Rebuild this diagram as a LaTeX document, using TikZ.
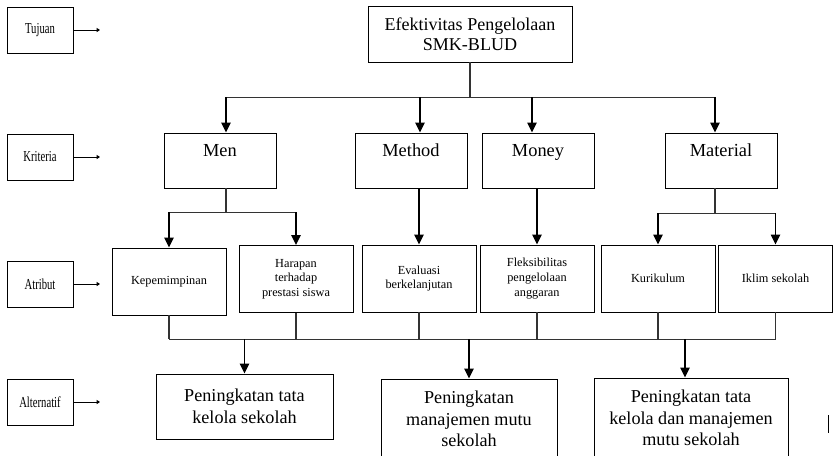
\documentclass[tikz,border=0pt]{standalone}
\usepackage{fontspec}
\usepackage{graphicx}
\setmainfont{Liberation Serif}
\usetikzlibrary{arrows.meta}

\newcommand{\lvlname}[1]{\scalebox{0.7}[1]{#1}}

\begin{document}
\begin{tikzpicture}[x=0.3mm,y=-0.3mm,
  box/.style={draw,line width=0.8pt,inner sep=0pt,align=center},
  lvlbox/.style={box,minimum width=19.8mm,minimum height=13.8mm,font=\fontsize{13}{15}\selectfont},
  goalbox/.style={box,minimum width=61.2mm,minimum height=16.8mm,font=\fontsize{15.4}{17.5}\selectfont},
  critbox/.style={box,minimum width=33.6mm,text height=7.1mm,text depth=9.4mm,font=\fontsize{15.7}{18}\selectfont},
  attrbox/.style={box,minimum width=34.2mm,minimum height=20.1mm,font=\fontsize{10.5}{12.5}\selectfont},
  altbox/.style={box,font=\fontsize{15.5}{18.4}\selectfont},
  link/.style={line width=1pt,black!80},
  arr/.style={line width=1.2pt,-{Triangle[length=3mm,width=2.8mm]}},
  tip/.style={line width=0.8pt,-{Triangle[length=1mm,width=1.2mm]}}]
\clip (0,0) rectangle (834,455);

% levels on the left
\node[lvlbox] (tujuan) at (40,30) {\lvlname{Tujuan}};
\node[lvlbox] (kriteria) at (40,157) {\lvlname{Kriteria}};
\node[lvlbox] (atribut) at (40,284) {\lvlname{Atribut}};
\node[lvlbox] (alternatif) at (40,402) {\lvlname{Alternatif}};
\foreach \n/\y in {tujuan/30,kriteria/157,atribut/284,alternatif/402}{
  \coordinate (\n-to) at (100,\y);
  \draw[tip] (\n) -- (\n-to);
}

% goal and criteria
\node[goalbox] (goal) at (470,34) {Efektivitas Pengelolaan\\SMK-BLUD};
\node[critbox] (men) at (220,160.5) {Men};
\node[critbox] (method) at (411,160.5) {Method};
\node[critbox] (money) at (538,160.5) {Money};
\node[critbox] (material) at (721,160.5) {Material};

\coordinate (men-in) at ([xshift=1.8mm]men.north);
\coordinate (method-in) at ([xshift=2.7mm]method.north);
\coordinate (money-in) at ([xshift=-1.8mm]money.north);
\coordinate (material-in) at ([xshift=-1.8mm]material.north);

\draw[link] (goal.south) -- ++(0,35) coordinate (hub);
\draw[link] (men-in |- hub) -- (material-in |- hub);
\foreach \c in {men-in,method-in,money-in,material-in}
  \draw[arr] (\c |- hub) -- (\c);

% attributes
\node[attrbox] (kep) at (169,281.5) {Kepemimpinan};
\node[attrbox] (har) at (296,279) {Harapan\\terhadap\\prestasi siswa};
\node[attrbox] (eva) at (419,278.5) {Evaluasi\\berkelanjutan};
\node[attrbox] (flek) at (537,278.5) {Fleksibilitas\\pengelolaan\\anggaran};
\node[attrbox] (kur) at (658,278.5) {Kurikulum};
\node[attrbox] (ikl) at (775.5,278.5) {Iklim sekolah};

\draw[link] (men.south -| men-in) -- ++(0,24) coordinate (men-hub);
\draw[link] (kep.north |- men-hub) -- (har.north |- men-hub);
\draw[arr] (kep.north |- men-hub) -- (kep.north);
\draw[arr] (har.north |- men-hub) -- (har.north);

\draw[arr] (method.south -| eva.north) -- (eva.north);
\draw[arr] (money.south -| flek.north) -- (flek.north);

\draw[link] (material.south -| material-in) -- ++(0,25) coordinate (mat-hub);
\draw[link] (kur.north |- mat-hub) -- (ikl.north |- mat-hub);
\draw[arr] (kur.north |- mat-hub) -- (kur.north);
\draw[arr] (ikl.north |- mat-hub) -- (ikl.north);

% alternatives
\path (eva.south) ++(0,27) coordinate (low);
\foreach \a in {kep,har,eva,flek,kur,ikl}
  \draw[link] (\a.south) -- (\a.south |- low);
\draw[link] (kep.south |- low) -- (ikl.south |- low);

\node[altbox,minimum width=53.1mm,minimum height=19.5mm] (alt1) at (244.5,406.5) {Peningkatan tata\\kelola sekolah};
\node[altbox,minimum width=52.8mm,minimum height=24mm] (alt2) at (469,419) {Peningkatan\\manajemen mutu\\sekolah};
\node[altbox,minimum width=58.2mm,minimum height=24mm] (alt3) at (691,418) {Peningkatan tata\\kelola dan manajemen\\mutu sekolah};
\coordinate (alt3-in) at ([xshift=-1.8mm]alt3.north);

\draw[arr] (alt1.north |- low) -- (alt1.north);
\draw[arr] (alt2.north |- low) -- (alt2.north);
\draw[arr] (alt3-in |- low) -- (alt3-in);

\draw[line width=0.8pt] (828,415) -- (828,433);
\end{tikzpicture}
\end{document}
